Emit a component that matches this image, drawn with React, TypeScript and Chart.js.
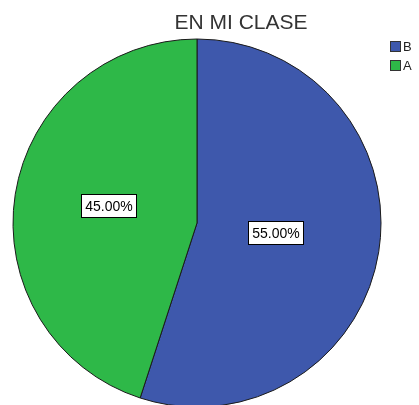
import React, { useEffect, useRef } from "react";
import { Chart, registerables } from "chart.js";

Chart.register(...registerables);

const TITLE = "EN MI CLASE";
const categories = ["B", "A"];
const values = [55, 45];
const colors = ["#3E58AC", "#2EB848"];
const valueLabels = ["55.00%", "45.00%"];

const FONT = "'Liberation Sans', Arial, sans-serif";

const overlayPlugin = {
  id: "overlay",
  afterDatasetsDraw(chart: any) {
    const ctx = chart.ctx as CanvasRenderingContext2D;
    const meta = chart.getDatasetMeta(0);
    ctx.save();
    // slice labels
    ctx.font = `14px ${FONT}`;
    ctx.textAlign = "center";
    ctx.textBaseline = "middle";
    meta.data.forEach((arc: any, i: number) => {
      const { x, y, startAngle, endAngle, outerRadius } = arc.getProps(
        ["x", "y", "startAngle", "endAngle", "outerRadius"],
        true
      );
      const mid = (startAngle + endAngle) / 2;
      const r = outerRadius * 0.46;
      const cx = x + Math.cos(mid) * r - 5;
      const cy = y + Math.sin(mid) * r - 4;
      const text = valueLabels[i];
      const w = Math.round(ctx.measureText(text).width + 8);
      const h = 23;
      const bx = Math.round(cx - w / 2) + 0.5;
      const by = Math.round(cy - h / 2) + 0.5;
      ctx.fillStyle = "#ffffff";
      ctx.fillRect(bx, by, w, h);
      ctx.strokeStyle = "#000000";
      ctx.lineWidth = 1;
      ctx.strokeRect(bx, by, w, h);
      ctx.fillStyle = "#000000";
      ctx.fillText(text, bx + w / 2, by + h / 2 + 1);
    });
    // title
    ctx.font = `21px ${FONT}`;
    ctx.fillStyle = "#333333";
    ctx.textAlign = "center";
    ctx.textBaseline = "alphabetic";
    ctx.fillText(TITLE, 241, 29);
    // legend
    ctx.font = `13px ${FONT}`;
    ctx.textAlign = "left";
    ctx.textBaseline = "middle";
    categories.forEach((c, i) => {
      const ly = 41 + i * 19;
      ctx.fillStyle = colors[i];
      ctx.fillRect(390.5, ly + 0.5, 10, 10);
      ctx.strokeStyle = "#333333";
      ctx.lineWidth = 1;
      ctx.strokeRect(390.5, ly + 0.5, 10, 10);
      ctx.fillStyle = "#222222";
      ctx.fillText(c, 403, ly + 6);
    });
    ctx.restore();
  },
};

export default function App() {
  const ref = useRef<HTMLCanvasElement>(null);
  useEffect(() => {
    if (!ref.current) return;
    const chart = new Chart(ref.current, {
      type: "pie",
      data: {
        labels: categories,
        datasets: [
          {
            data: values,
            backgroundColor: colors,
            borderColor: "#1a1a1a",
            borderWidth: 1,
            radius: 184,
          } as any,
        ],
      },
      options: {
        responsive: false,
        animation: false,
        layout: { padding: { left: 13, right: 38, top: 39, bottom: 3 } },
        plugins: {
          legend: { display: false },
          title: { display: false },
          tooltip: { enabled: false },
        },
      },
      plugins: [overlayPlugin],
    });
    return () => chart.destroy();
  }, []);
  return (
    <div
      style={{
        position: "fixed",
        left: 0,
        top: 0,
        width: 419,
        height: 405,
        overflow: "hidden",
        background: "#ffffff",
      }}
    >
      <canvas ref={ref} width={419} height={410} style={{ display: "block" }} />
    </div>
  );
}
